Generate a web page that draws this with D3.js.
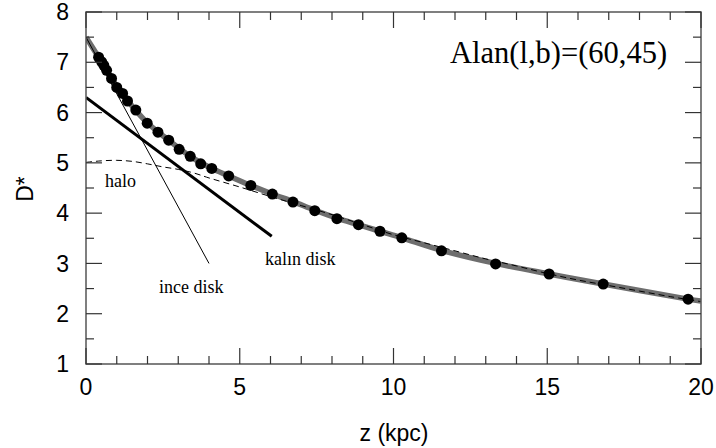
<!DOCTYPE html>
<html><head><meta charset="utf-8">
<script src="https://cdn.jsdelivr.net/npm/d3@7"></script>
<style>body{margin:0;background:#fff}svg{display:block}</style>
</head><body>
<svg id="c" width="716" height="448"></svg>
<script>
// Observed data points (z in kpc, D*)
const obsZ = [0.41,0.51,0.58,0.67,0.83,1.00,1.19,1.35,1.62,1.99,2.34,2.69,3.03,3.39,3.73,4.09,4.64,5.36,6.06,6.73,7.44,8.16,8.86,9.56,10.27,11.56,13.32,15.06,16.82,19.58];
const obsD = [7.10,7.01,6.94,6.84,6.68,6.50,6.38,6.23,6.05,5.79,5.61,5.45,5.27,5.13,4.98,4.89,4.74,4.55,4.38,4.22,4.05,3.89,3.77,3.64,3.51,3.25,2.99,2.79,2.59,2.29];
// Total model (grey thick)
const totZ = [0,0.41,0.67,1.00,1.35,1.99,2.69,3.39,4.09,4.64,5.36,6.06,6.73,7.44,8.16,8.86,9.56,10.27,11.56,13.32,15.06,16.82,19.58,20];
const totD = [7.50,7.10,6.84,6.52,6.24,5.80,5.45,5.13,4.89,4.74,4.55,4.38,4.23,4.06,3.90,3.77,3.64,3.51,3.26,3.00,2.79,2.59,2.29,2.25];
// Thin disk (ince disk)
const thinZ = [0,4.0];
const thinD = [7.50,3.00];
// Thick disk (kalın disk)
const thickZ = [0,6.04];
const thickD = [6.30,3.54];
// Halo (dashed)
const haloZ = [0,0.5,1,1.5,2,2.5,3,3.5,4,5,6,7,8,9,10,11,12,13,14,15,16,17,18,19,20];
const haloD = [5.01,5.04,5.05,5.03,4.98,4.92,4.87,4.80,4.70,4.52,4.33,4.15,3.97,3.77,3.57,3.41,3.25,3.09,2.95,2.80,2.67,2.56,2.45,2.34,2.24];
const xTicks = [0,5,10,15,20];
const yTicks = [1,2,3,4,5,6,7,8];

const svg = d3.select('#c');
const L=86,R=701,T=12,B=364;
const x = d3.scaleLinear().domain([0,20]).range([L,R]);
const y = d3.scaleLinear().domain([1,8]).range([B,T]);
const pts = (zs,ds)=>zs.map((z,i)=>[z,ds[i]]);
const line = d3.line().x(d=>x(d[0])).y(d=>y(d[1]));
const curve = d3.line().x(d=>x(d[0])).y(d=>y(d[1])).curve(d3.curveCatmullRom.alpha(0.5));

svg.append('clipPath').attr('id','pc').append('rect').attr('x',L).attr('y',T).attr('width',R-L).attr('height',B-T);
const g = svg.append('g').attr('clip-path','url(#pc)');

g.append('path').attr('d',curve(pts(totZ,totD))).attr('fill','none').attr('stroke','#6e6e6e').attr('stroke-width',5.5);
g.append('path').attr('d',curve(pts(haloZ,haloD))).attr('fill','none').attr('stroke','#000').attr('stroke-width',1).attr('stroke-dasharray','6,4');
g.append('path').attr('d',line(pts(thinZ,thinD))).attr('fill','none').attr('stroke','#000').attr('stroke-width',1);
g.append('path').attr('d',line(pts(thickZ,thickD))).attr('fill','none').attr('stroke','#000').attr('stroke-width',3);
svg.append('g').selectAll('circle').data(pts(obsZ,obsD)).join('circle')
  .attr('cx',d=>x(d[0])).attr('cy',d=>y(d[1])).attr('r',5.5).attr('fill','#000');

// Frame with inward ticks on all four sides
svg.append('rect').attr('x',L).attr('y',T).attr('width',R-L).attr('height',B-T)
  .attr('fill','none').attr('stroke','#555').attr('stroke-width',1.5);
const tk = svg.append('g').attr('stroke','#333').attr('stroke-width',1.2);
d3.range(0,21,1).forEach(v=>{
  const len = v%5===0?16:8;
  tk.append('line').attr('x1',x(v)).attr('x2',x(v)).attr('y1',B).attr('y2',B-len);
  tk.append('line').attr('x1',x(v)).attr('x2',x(v)).attr('y1',T).attr('y2',T+len);
});
d3.range(1,8.01,0.5).forEach(v=>{
  const len = Number.isInteger(v)?16:8;
  tk.append('line').attr('y1',y(v)).attr('y2',y(v)).attr('x1',L).attr('x2',L+len);
  tk.append('line').attr('y1',y(v)).attr('y2',y(v)).attr('x1',R).attr('x2',R-len);
});

const sans = 'Liberation Sans, Arial, sans-serif';
const serif = 'Liberation Serif, Times New Roman, serif';
svg.append('g').selectAll('text').data(xTicks).join('text')
  .attr('x',d=>x(d)).attr('y',395).attr('text-anchor','middle')
  .attr('font-family',sans).attr('font-size',23).text(d=>d);
svg.append('g').selectAll('text').data(yTicks).join('text')
  .attr('x',69).attr('y',d=>y(d)+8.2).attr('text-anchor','end')
  .attr('font-family',sans).attr('font-size',23).text(d=>d);
svg.append('text').attr('x',394).attr('y',441).attr('text-anchor','middle')
  .attr('font-family',sans).attr('font-size',23).text('z (kpc)');
svg.append('text').attr('transform','translate(33,189) rotate(-90)').attr('text-anchor','middle')
  .attr('font-family',sans).attr('font-size',23).text('D*');

svg.append('text').attr('x',450).attr('y',63).attr('font-family',serif).attr('font-size',30.5).text('Alan(l,b)=(60,45)');
svg.append('text').attr('x',105).attr('y',187).attr('font-family',serif).attr('font-size',18).text('halo');
svg.append('text').attr('x',159).attr('y',293).attr('font-family',serif).attr('font-size',18).text('ince disk');
svg.append('text').attr('x',265).attr('y',265).attr('font-family',serif).attr('font-size',18).text('kalın disk');
</script>
</body></html>
